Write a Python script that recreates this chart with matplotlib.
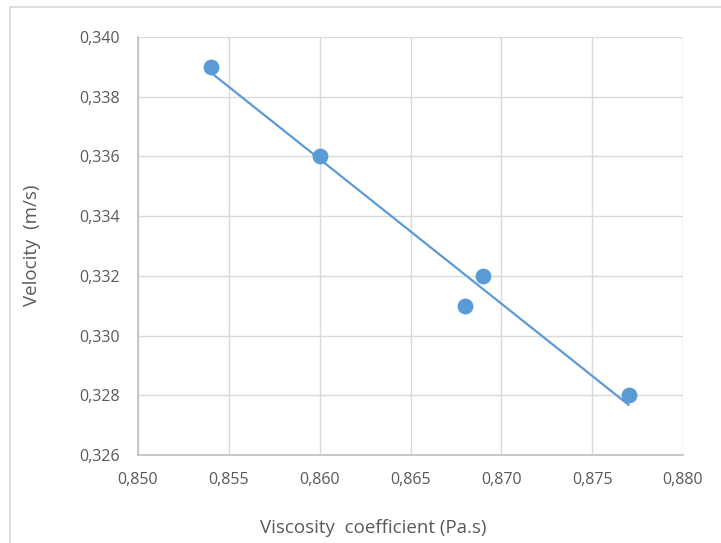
import matplotlib
matplotlib.use('Agg')
import matplotlib.pyplot as plt
import numpy as np
from matplotlib.lines import Line2D
from matplotlib.ticker import FuncFormatter

# measured data
viscosity = [0.854, 0.860, 0.868, 0.869, 0.877]
velocity = [0.339, 0.336, 0.331, 0.332, 0.328]

x_ticks = [0.850, 0.855, 0.860, 0.865, 0.870, 0.875, 0.880]
y_ticks = [0.326, 0.328, 0.330, 0.332, 0.334, 0.336, 0.338, 0.340]

plt.rcParams['font.family'] = ['Open Sans', 'DejaVu Sans']

blue = '#5B9BD5'
text_gray = '#595959'
grid_gray = '#D9D9D9'

fig = plt.figure(figsize=(7.21, 5.43), dpi=100)
ax = fig.add_axes([138 / 721, 1 - 455 / 543, 545 / 721, 418 / 543])

# linear trendline over the data range
coef = np.polyfit(viscosity, velocity, 1)
xs = np.array([min(viscosity), max(viscosity)])
ax.plot(xs, np.polyval(coef, xs), color=blue, lw=1.6, zorder=3)
ax.scatter(viscosity, velocity, s=130, color=blue, zorder=4, linewidths=0)

ax.set_xlim(x_ticks[0], x_ticks[-1])
ax.set_ylim(y_ticks[0], y_ticks[-1])
ax.set_xticks(x_ticks)
ax.set_yticks(y_ticks)
fmt = FuncFormatter(lambda v, p: f"{v:.3f}".replace('.', ','))
ax.xaxis.set_major_formatter(fmt)
ax.yaxis.set_major_formatter(fmt)
ax.tick_params(length=0, labelsize=11.5, colors=text_gray)
ax.tick_params(axis='x', pad=12)
ax.tick_params(axis='y', pad=13)

ax.grid(True, color=grid_gray, lw=1)
ax.set_axisbelow(True)
for side in ['top', 'right']:
    ax.spines[side].set_visible(False)
for side in ['left', 'bottom']:
    ax.spines[side].set_color('#BFBFBF')
    ax.spines[side].set_linewidth(1.2)

fig.text(373 / 721, 1 - 528 / 543, 'Viscosity  coefficient (Pa.s)', ha='center', va='center',
         fontsize=13.5, color=text_gray)
fig.text(32 / 721, 1 - 245 / 543, 'Velocity  (m/s)', ha='center', va='center',
         rotation=90, fontsize=13.5, color=text_gray)

# outer chart border (only top and left visible in the crop)
fig.add_artist(Line2D([10 / 721, 10 / 721], [0, 1 - 7 / 543], color='#D9D9D9', lw=1.2))
fig.add_artist(Line2D([10 / 721, 1], [1 - 7 / 543, 1 - 7 / 543], color='#D9D9D9', lw=1.2))

fig.savefig('out.png', dpi=100)
